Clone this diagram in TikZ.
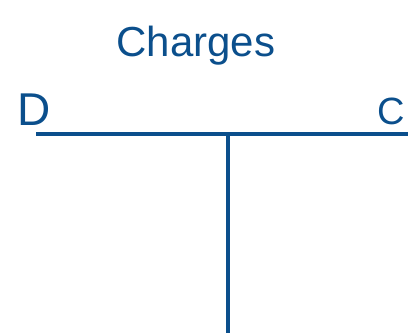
\documentclass[tikz,border=0pt]{standalone}
\usepackage{fontspec}
\setmainfont{Liberation Sans}
\definecolor{ink}{HTML}{0B4F8C}
\begin{document}
\begin{tikzpicture}[x=1pt,y=-1pt,
  tline/.style={draw=ink,line width=3.5pt},
  label/.style={text=ink,inner sep=0pt,anchor=base}]
\useasboundingbox (0,0) rectangle (408,333);
\coordinate (L) at (36,134);
\coordinate (R) at (408,134);
\coordinate (T) at (228,134);
\coordinate (B) at (228,333);
\node[label,font=\fontsize{42}{42}\selectfont] (title) at (196,56) {Charges};
\node[label,font=\fontsize{46}{46}\selectfont] (debit) at (34,125) {D};
\node[label,font=\fontsize{38}{38}\selectfont,anchor=base east] (credit) at (405,124) {C};
\draw[tline] (L) -- (R);
\draw[tline] (T) -- (B);
\end{tikzpicture}
\end{document}
